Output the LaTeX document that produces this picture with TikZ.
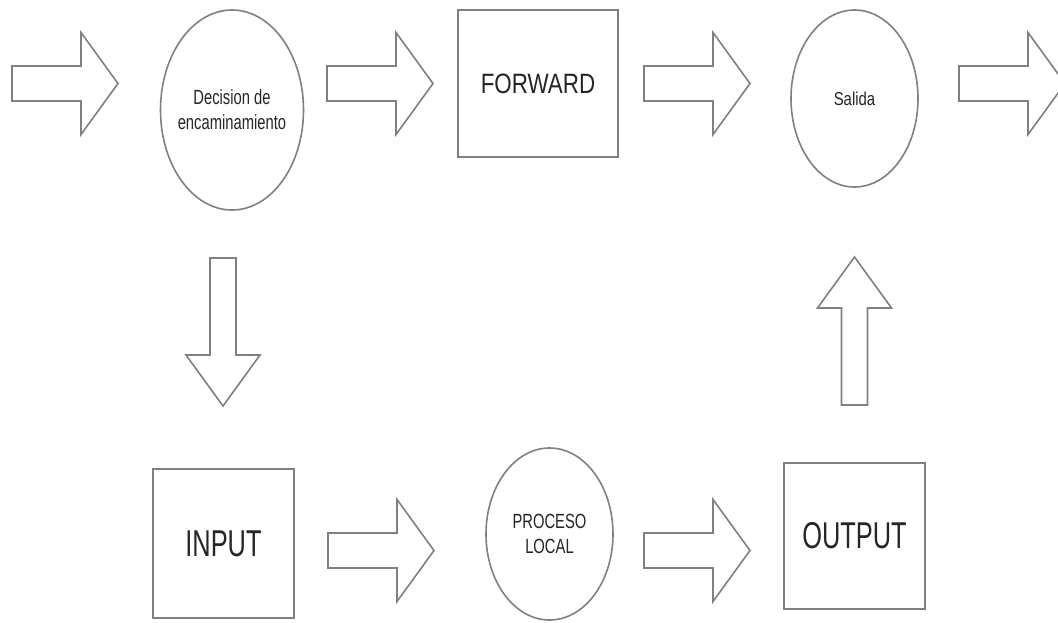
\documentclass[tikz,border=0pt]{standalone}
\usepackage{fontspec}
\setmainfont{Liberation Sans}
\newfontfamily\labelfont[FakeStretch=0.72]{Liberation Sans}
\newfontfamily\fwdfont[FakeStretch=0.8]{Liberation Sans}
\newfontfamily\iofont[FakeStretch=0.68]{Liberation Sans}
\usetikzlibrary{shapes.geometric}
\tikzset{
  outline/.style={draw=black!50, line width=1.2pt},
  blockarrow/.style={outline, fill=white, line join=miter},
  oval/.style={outline, ellipse, inner sep=0pt, text=black!85, align=center},
  boxnode/.style={outline, rectangle, inner sep=0pt, text=black!85, align=center},
  small/.style={font=\labelfont\fontsize{15.4}{18.75}\selectfont},
  % horizontal block arrow, origin at the middle of its tail
  harrow/.pic={\draw[blockarrow] (0,-17.5) -- (69,-17.5) -- (69,-51) -- (106,0)
      -- (69,51) -- (69,17.5) -- (0,17.5) -- cycle;},
  % vertical block arrow pointing down, origin at the middle of its tail
  varrow/.pic={\draw[blockarrow] (-13,0) -- (-13,97) -- (-37,97) -- (0,148)
      -- (37,97) -- (13,97) -- (13,0) -- cycle;}
}
\begin{document}
\begin{tikzpicture}[x=0.75pt, y=-0.75pt]
  \clip (0,0) rectangle (1058,622);
  \fill[white] (0,0) rectangle (1058,622);

  % top row
  \node[oval, minimum width=107.25pt, minimum height=150pt] (dec) at (232,110) {};
  \node[small, text=black!85, align=center, inner sep=0pt] (dectext) at (dec.center)
    {Decision de\\encaminamiento};
  \node[boxnode, font=\fwdfont\fontsize{21}{25}\selectfont,
        minimum width=120pt, minimum height=110.25pt] (fwd) at (538,83.5) {FORWARD};
  \node[oval, font=\fwdfont\fontsize{14}{17}\selectfont,
        minimum width=95.25pt, minimum height=132.75pt] (sal) at (854.5,98.5) {Salida};

  % bottom row
  \node[boxnode, font=\iofont\fontsize{28}{32}\selectfont,
        minimum width=105.75pt, minimum height=111.75pt] (inp) at (223.5,543.5) {INPUT};
  \node[oval, small, minimum width=95.25pt, minimum height=129pt] (loc) at (549.5,534)
    {PROCESO\\LOCAL};
  \node[boxnode, font=\iofont\fontsize{28}{32}\selectfont,
        minimum width=105.75pt, minimum height=109.5pt] (out) at (854.5,536) {OUTPUT};

  % block arrows along the flow
  \pic at (12,83.5) {harrow};
  \pic at (327,83.5) {harrow};
  \pic at (644,83.5) {harrow};
  \pic at (959,83.5) {harrow};
  \pic at (223,258) {varrow};
  \pic at (328,550.5) {harrow};
  \pic at (644,550.5) {harrow};
  \pic[rotate=180] at (854.5,405) {varrow};
\end{tikzpicture}
\end{document}
